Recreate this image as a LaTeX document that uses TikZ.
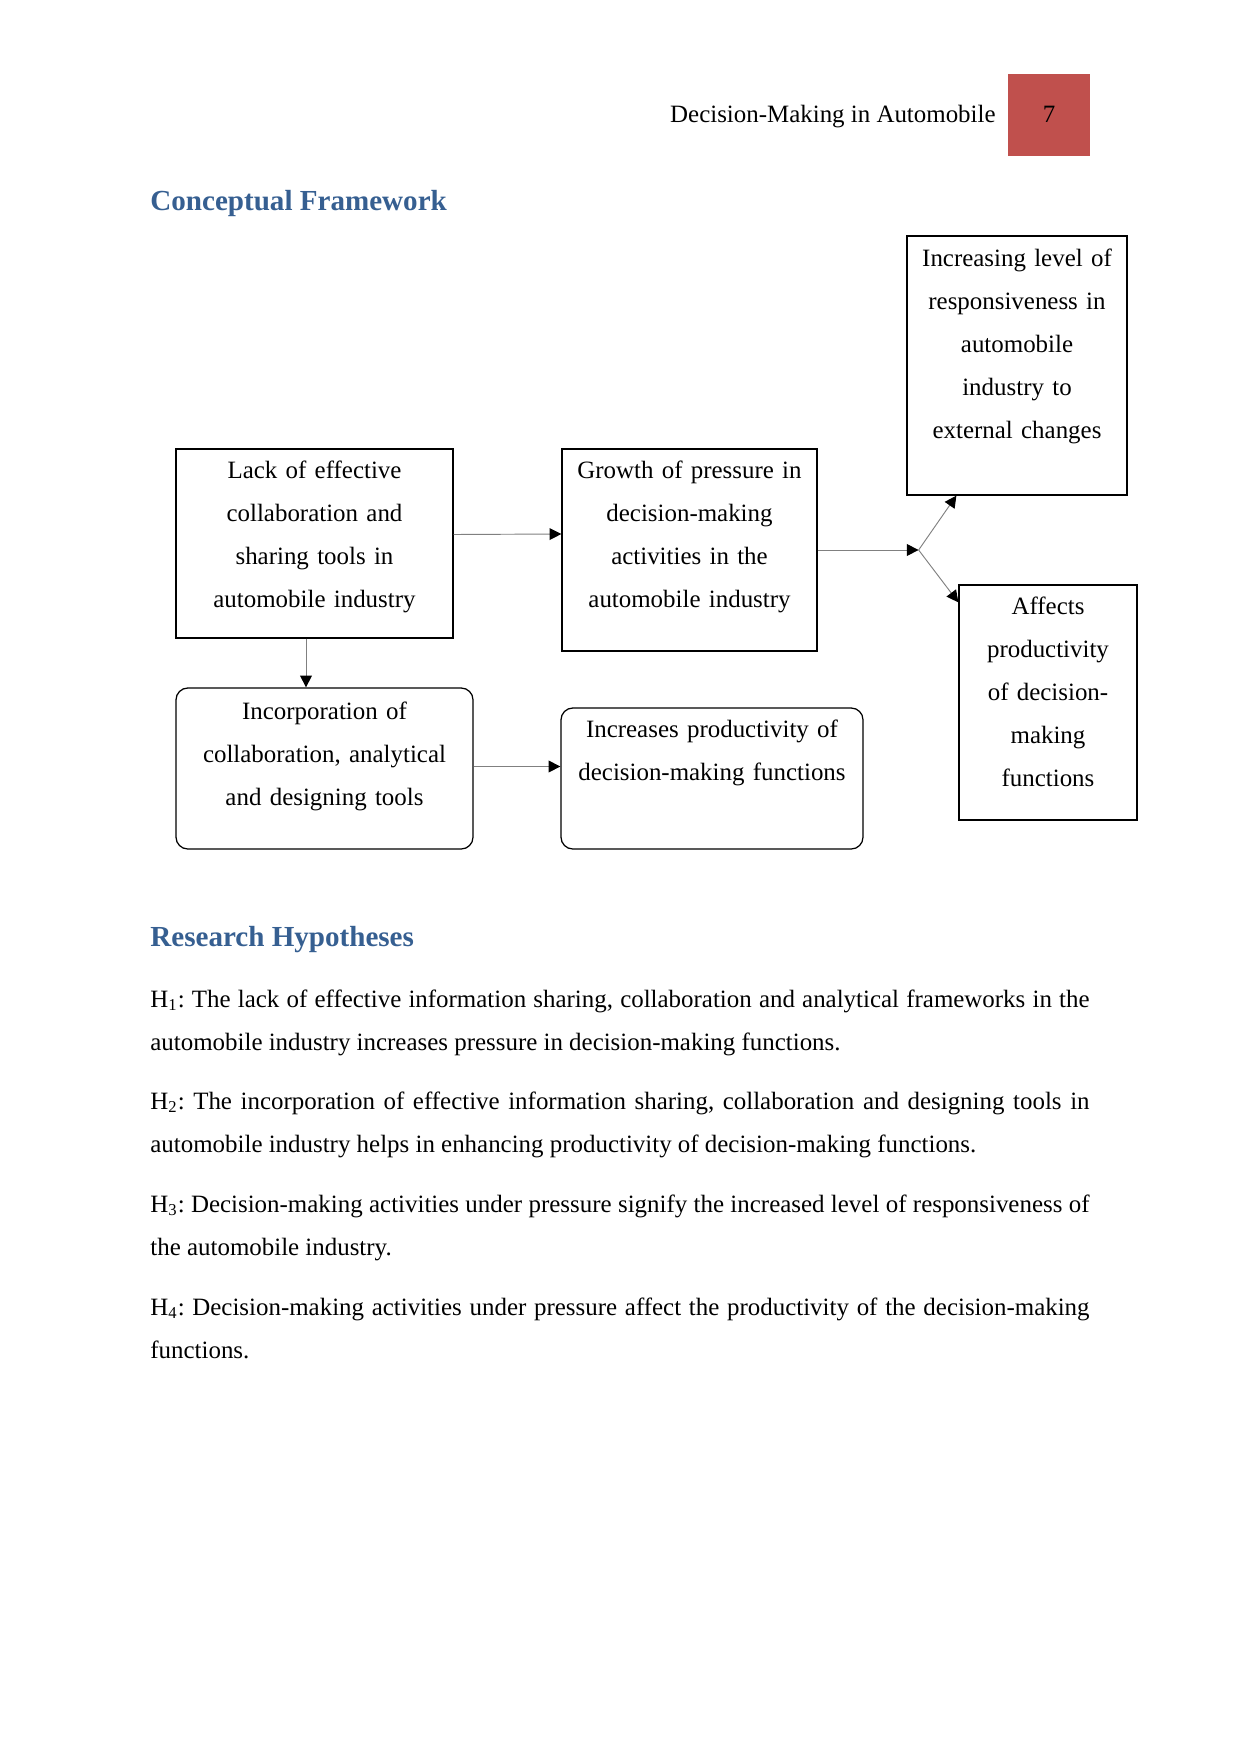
\documentclass[tikz,border=0pt]{standalone}
\usepackage{fontspec}
\setmainfont{Liberation Serif}
\usepackage{tikz}
\usetikzlibrary{arrows.meta, positioning, fit, calc}
\definecolor{headblue}{RGB}{54,95,145}
\definecolor{pagered}{RGB}{192,80,77}
\hyphenpenalty=10000
\frenchspacing

\begin{document}
\begin{tikzpicture}[
    x=0.1692mm, y=-0.1692mm,
    plainbox/.style={draw, line width=0.6pt, inner sep=0pt},
    roundbox/.style={plainbox, rounded corners=2mm},
    boxtext/.style={text width=50mm, align=center, font=\fontsize{12}{20.7}\selectfont, inner sep=0pt, anchor=base},
    link/.style={draw=gray, line width=0.45pt, -{Triangle[length=2mm, width=2mm, color=black]}},
    heading/.style={font=\fontsize{14}{17}\selectfont\bfseries, text=headblue, anchor=base west, inner sep=0pt},
    hypo/.style={font=\fontsize{12}{20.7}\selectfont, text width=158.9mm, align=justify, anchor=base west, inner sep=0pt},
]
    \useasboundingbox (0,0) rectangle (1241,1754);

    % page header
    \node[fill=pagered, inner sep=0pt, fit={(1008,74) (1090,156)}] (pagebox) {};
    \node[font=\fontsize{12}{14}\selectfont, anchor=base, inner sep=0pt] (pagenum) at (1049,123) {7};
    \node[font=\fontsize{12}{14}\selectfont, anchor=base east, inner sep=0pt] (runhead) at (996,123) {Decision-Making in Automobile};

    \node[heading] (concept) at (150,211) {Conceptual Framework};

    % boxes
    \node[plainbox, fit={(176,449) (453,638)}] (lack) {};
    \node[plainbox, fit={(562,449) (817,651)}] (growth) {};
    \node[plainbox, fit={(907,236) (1127,495)}] (resp) {};
    \node[plainbox, fit={(959,585) (1137,820)}] (affect) {};
    \node[roundbox, fit={(176,688) (473,849)}] (incorp) {};
    \node[roundbox, fit={(561,708) (863,849)}] (incr) {};

    \node[boxtext] (lack-text) at ($(lack.north)+(0,30)$) {Lack of effective\\collaboration and\\sharing tools in\\automobile industry};
    \node[boxtext] (growth-text) at ($(growth.north)+(0,30)$) {Growth of pressure in\\decision-making\\activities in the\\automobile industry};
    \node[boxtext] (resp-text) at ($(resp.north)+(0,31)$) {Increasing level of\\responsiveness in\\automobile\\industry to\\external changes};
    \node[boxtext] (affect-text) at ($(affect.north)+(0,30)$) {Affects\\productivity\\of decision-\\making\\functions};
    \node[boxtext] (incorp-text) at ($(incorp.north)+(0,32)$) {Incorporation of\\collaboration, analytical\\and designing tools};
    \node[boxtext] (incr-text) at ($(incr.north)+(0,30)$) {Increases productivity of\\decision-making functions};

    % connectors
    \coordinate (fork) at ($(growth.east)+(101,0)$);
    \coordinate (drop) at ($(lack.south)+(-8.5,0)$);
    \draw[link] ($(lack.east)+(0,-9)$) -- ($(growth.west)+(0,-16)$);
    \draw[link] (growth.east) -- (fork);
    \draw[link] (fork) -- ($(resp.south west)+(50,0)$);
    \draw[link] (fork) -- ($(affect.north west)+(0,18)$);
    \draw[link] (drop) -- (drop |- incorp.north);
    \draw[link] ($(incorp.east)+(0,-2)$) -- ($(incorp.east -| incr.west)+(0,-2)$);

    % hypotheses
    \node[heading] (research) at (150,946) {Research Hypotheses};
    \node[hypo] (h1) at (150,1007) {H\textsubscript{1}: The lack of effective information sharing, collaboration and analytical frameworks in the automobile industry increases pressure in decision-making functions.};
    \node[hypo] (h2) at (150,1109) {H\textsubscript{2}: The incorporation of effective information sharing, collaboration and designing tools in automobile industry helps in enhancing productivity of decision-making functions.};
    \node[hypo] (h3) at (150,1212) {H\textsubscript{3}: Decision-making activities under pressure signify the increased level of responsiveness of the automobile industry.};
    \node[hypo] (h4) at (150,1315) {H\textsubscript{4}: Decision-making activities under pressure affect the productivity of the decision-making functions.};
\end{tikzpicture}
\end{document}
